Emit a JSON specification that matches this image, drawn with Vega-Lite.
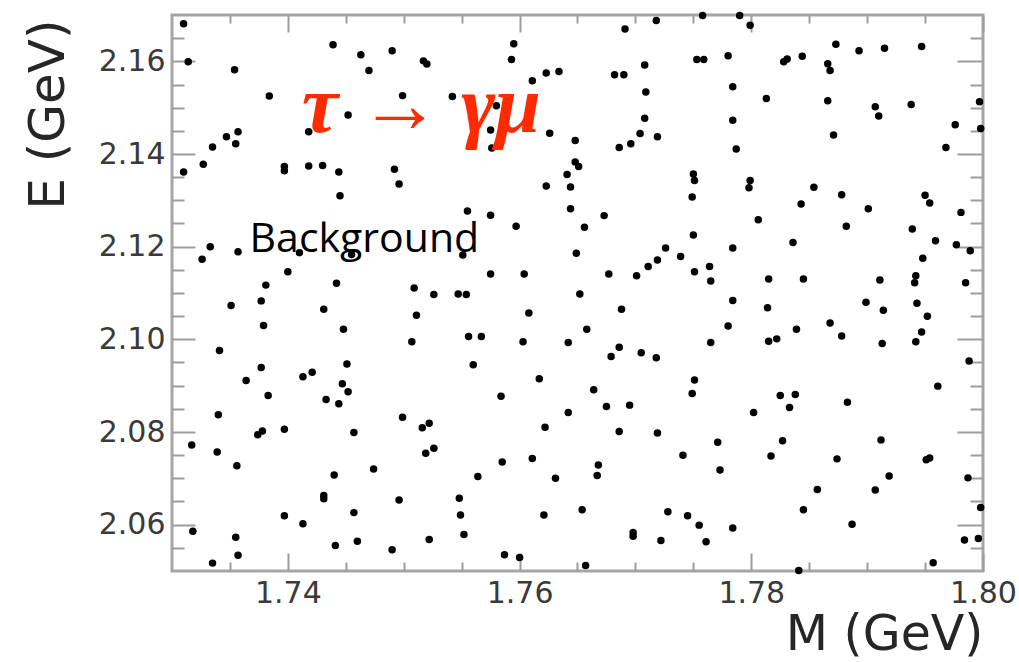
{
"$schema":"https://vega.github.io/schema/vega-lite/v6.json",
"width":811,"height":556,"autosize":"none",
"padding":{"left":172,"top":15,"right":36,"bottom":91},
"background":"white",
"config":{"view":{"stroke":"#a6a6a6","strokeWidth":3},
"axis":{"grid":false,"domain":false,"labelFont":"DejaVu Sans","labelFontSize":30,"labelColor":"#3a3a3a","tickColor":"#9c9c9c","tickWidth":2,"titleFont":"DejaVu Sans","titleFontWeight":"normal","titleColor":"#262626"}},
"datasets":{
"pts":[
{"M":1.7310,"E":2.1681},{"M":1.7314,"E":2.1599},{"M":1.7354,"E":2.1582},{"M":1.7384,"E":2.1525},{"M":1.7439,"E":2.1636},{"M":1.7463,"E":2.1614},{"M":1.7470,"E":2.1580},{"M":1.7452,"E":2.1484},{"M":1.7418,"E":2.1448},{"M":1.7357,"E":2.1448},{"M":1.7347,"E":2.1437},{"M":1.7355,"E":2.1422},{"M":1.7335,"E":2.1415},{"M":1.7327,"E":2.1378},{"M":1.7310,"E":2.1361},{"M":1.7397,"E":2.1373},{"M":1.7397,"E":2.1364},{"M":1.7418,"E":2.1374},{"M":1.7430,"E":2.1375},{"M":1.7444,"E":2.1361},{"M":1.7445,"E":2.1310},
{"M":1.7490,"E":2.1623},{"M":1.7517,"E":2.1601},{"M":1.7520,"E":2.1594},{"M":1.7595,"E":2.1638},{"M":1.7593,"E":2.1604},{"M":1.7611,"E":2.1558},{"M":1.7623,"E":2.1575},{"M":1.7634,"E":2.1578},{"M":1.7499,"E":2.1526},{"M":1.7542,"E":2.1524},{"M":1.7580,"E":2.1504},{"M":1.7626,"E":2.1445},{"M":1.7575,"E":2.1452},{"M":1.7576,"E":2.1413},{"M":1.7648,"E":2.1429},{"M":1.7648,"E":2.1383},{"M":1.7651,"E":2.1373},{"M":1.7641,"E":2.1356},{"M":1.7623,"E":2.1331},{"M":1.7644,"E":2.1329},{"M":1.7492,"E":2.1367},{"M":1.7496,"E":2.1335},
{"M":1.7691,"E":2.1670},{"M":1.7718,"E":2.1688},{"M":1.7758,"E":2.1699},{"M":1.7790,"E":2.1699},{"M":1.7799,"E":2.1678},{"M":1.7753,"E":2.1604},{"M":1.7759,"E":2.1604},{"M":1.7780,"E":2.1612},{"M":1.7682,"E":2.1571},{"M":1.7690,"E":2.1571},{"M":1.7708,"E":2.1592},{"M":1.7709,"E":2.1534},{"M":1.7784,"E":2.1545},{"M":1.7813,"E":2.1520},{"M":1.7708,"E":2.1477},{"M":1.7704,"E":2.1444},{"M":1.7696,"E":2.1422},{"M":1.7686,"E":2.1414},{"M":1.7719,"E":2.1437},{"M":1.7784,"E":2.1473},{"M":1.7787,"E":2.1411},{"M":1.7750,"E":2.1357},{"M":1.7751,"E":2.1343},{"M":1.7749,"E":2.1307},{"M":1.7799,"E":2.1343},{"M":1.7798,"E":2.1327},
{"M":1.7873,"E":2.1637},{"M":1.7893,"E":2.1623},{"M":1.7915,"E":2.1628},{"M":1.7947,"E":2.1632},{"M":1.7828,"E":2.1599},{"M":1.7831,"E":2.1605},{"M":1.7844,"E":2.1611},{"M":1.7866,"E":2.1595},{"M":1.7868,"E":2.1580},{"M":1.7866,"E":2.1515},{"M":1.7907,"E":2.1502},{"M":1.7910,"E":2.1482},{"M":1.7938,"E":2.1507},{"M":1.7997,"E":2.1513},{"M":1.7976,"E":2.1463},{"M":1.7998,"E":2.1455},{"M":1.7968,"E":2.1414},{"M":1.7871,"E":2.1441},{"M":1.7854,"E":2.1328},{"M":1.7878,"E":2.1312},{"M":1.7950,"E":2.1311},
{"M":1.7843,"E":2.1292},{"M":1.7901,"E":2.1282},{"M":1.7954,"E":2.1294},{"M":1.7981,"E":2.1274},{"M":1.7806,"E":2.1258},{"M":1.7882,"E":2.1244},{"M":1.7939,"E":2.1238},{"M":1.7784,"E":2.1197},{"M":1.7836,"E":2.1209},{"M":1.7959,"E":2.1213},{"M":1.7977,"E":2.1204},{"M":1.7989,"E":2.1191},{"M":1.7948,"E":2.1175},{"M":1.7815,"E":2.1130},{"M":1.7845,"E":2.1130},{"M":1.7911,"E":2.1128},{"M":1.7942,"E":2.1137},{"M":1.7941,"E":2.1122},{"M":1.7985,"E":2.1122},{"M":1.7784,"E":2.1084},{"M":1.7814,"E":2.1068},{"M":1.7899,"E":2.1080},{"M":1.7914,"E":2.1063},{"M":1.7943,"E":2.1078},{"M":1.7952,"E":2.1050},{"M":1.7780,"E":2.1029},{"M":1.7839,"E":2.1022},{"M":1.7868,"E":2.1035},{"M":1.7878,"E":2.1007},{"M":1.7815,"E":2.0996},{"M":1.7822,"E":2.1001},{"M":1.7913,"E":2.0991},{"M":1.7947,"E":2.1016},{"M":1.7942,"E":2.0995},{"M":1.7988,"E":2.0953},{"M":1.7961,"E":2.0899},
{"M":1.7555,"E":2.1277},{"M":1.7575,"E":2.1268},{"M":1.7597,"E":2.1244},{"M":1.7644,"E":2.1282},{"M":1.7673,"E":2.1267},{"M":1.7656,"E":2.1242},{"M":1.7750,"E":2.1225},{"M":1.7551,"E":2.1182},{"M":1.7649,"E":2.1186},{"M":1.7726,"E":2.1197},{"M":1.7739,"E":2.1179},{"M":1.7719,"E":2.1171},{"M":1.7711,"E":2.1157},{"M":1.7701,"E":2.1137},{"M":1.7751,"E":2.1146},{"M":1.7764,"E":2.1157},{"M":1.7765,"E":2.1126},{"M":1.7575,"E":2.1141},{"M":1.7604,"E":2.1141},{"M":1.7677,"E":2.1141},{"M":1.7547,"E":2.1098},{"M":1.7554,"E":2.1097},{"M":1.7652,"E":2.1098},{"M":1.7608,"E":2.1057},{"M":1.7688,"E":2.1065},{"M":1.7556,"E":2.1006},{"M":1.7567,"E":2.1006},{"M":1.7603,"E":2.0995},{"M":1.7642,"E":2.0993},{"M":1.7658,"E":2.1022},{"M":1.7686,"E":2.0983},{"M":1.7679,"E":2.0963},{"M":1.7705,"E":2.0971},{"M":1.7718,"E":2.0960},{"M":1.7765,"E":2.0993},{"M":1.7560,"E":2.0945},{"M":1.7617,"E":2.0915},{"M":1.7751,"E":2.0912},
{"M":1.7333,"E":2.1200},{"M":1.7326,"E":2.1173},{"M":1.7357,"E":2.1189},{"M":1.7410,"E":2.1187},{"M":1.7455,"E":2.1183},{"M":1.7400,"E":2.1146},{"M":1.7381,"E":2.1117},{"M":1.7442,"E":2.1121},{"M":1.7509,"E":2.1111},{"M":1.7526,"E":2.1097},{"M":1.7377,"E":2.1083},{"M":1.7351,"E":2.1073},{"M":1.7431,"E":2.1065},{"M":1.7511,"E":2.1052},{"M":1.7379,"E":2.1030},{"M":1.7448,"E":2.1022},{"M":1.7507,"E":2.0995},{"M":1.7341,"E":2.0976},{"M":1.7377,"E":2.0939},{"M":1.7451,"E":2.0947},{"M":1.7413,"E":2.0919},{"M":1.7421,"E":2.0929},{"M":1.7364,"E":2.0911},{"M":1.7447,"E":2.0904},
{"M":1.7452,"E":2.0887},{"M":1.7383,"E":2.0879},{"M":1.7433,"E":2.0870},{"M":1.7444,"E":2.0861},{"M":1.7340,"E":2.0837},{"M":1.7499,"E":2.0832},{"M":1.7516,"E":2.0809},{"M":1.7522,"E":2.0819},{"M":1.7374,"E":2.0794},{"M":1.7378,"E":2.0802},{"M":1.7397,"E":2.0806},{"M":1.7457,"E":2.0799},{"M":1.7317,"E":2.0772},{"M":1.7339,"E":2.0757},{"M":1.7519,"E":2.0754},{"M":1.7526,"E":2.0765},{"M":1.7356,"E":2.0727},{"M":1.7474,"E":2.0720},{"M":1.7440,"E":2.0707},{"M":1.7431,"E":2.0663},{"M":1.7431,"E":2.0656},{"M":1.7496,"E":2.0653},{"M":1.7397,"E":2.0619},{"M":1.7413,"E":2.0602},{"M":1.7457,"E":2.0626},{"M":1.7318,"E":2.0586},{"M":1.7355,"E":2.0573},{"M":1.7357,"E":2.0534},{"M":1.7335,"E":2.0517},{"M":1.7441,"E":2.0555},{"M":1.7460,"E":2.0564},{"M":1.7490,"E":2.0546},{"M":1.7522,"E":2.0568},
{"M":1.7584,"E":2.0877},{"M":1.7664,"E":2.0891},{"M":1.7675,"E":2.0855},{"M":1.7695,"E":2.0858},{"M":1.7642,"E":2.0842},{"M":1.7749,"E":2.0883},{"M":1.7622,"E":2.0810},{"M":1.7686,"E":2.0801},{"M":1.7719,"E":2.0798},{"M":1.7771,"E":2.0778},{"M":1.7741,"E":2.0750},{"M":1.7773,"E":2.0718},{"M":1.7585,"E":2.0735},{"M":1.7611,"E":2.0743},{"M":1.7564,"E":2.0704},{"M":1.7631,"E":2.0700},{"M":1.7668,"E":2.0729},{"M":1.7667,"E":2.0706},{"M":1.7548,"E":2.0657},{"M":1.7549,"E":2.0621},{"M":1.7552,"E":2.0579},{"M":1.7621,"E":2.0621},{"M":1.7654,"E":2.0632},{"M":1.7728,"E":2.0628},{"M":1.7745,"E":2.0619},{"M":1.7755,"E":2.0599},{"M":1.7698,"E":2.0583},{"M":1.7698,"E":2.0575},{"M":1.7722,"E":2.0566},{"M":1.7761,"E":2.0563},{"M":1.7587,"E":2.0535},{"M":1.7600,"E":2.0529},{"M":1.7657,"E":2.0512},
{"M":1.7825,"E":2.0879},{"M":1.7838,"E":2.0881},{"M":1.7833,"E":2.0853},{"M":1.7802,"E":2.0842},{"M":1.7883,"E":2.0864},{"M":1.7827,"E":2.0781},{"M":1.7817,"E":2.0748},{"M":1.7912,"E":2.0783},{"M":1.7874,"E":2.0742},{"M":1.7951,"E":2.0740},{"M":1.7954,"E":2.0744},{"M":1.7919,"E":2.0705},{"M":1.7857,"E":2.0676},{"M":1.7907,"E":2.0675},{"M":1.7987,"E":2.0701},{"M":1.7845,"E":2.0632},{"M":1.7998,"E":2.0637},{"M":1.7784,"E":2.0593},{"M":1.7887,"E":2.0601},{"M":1.7984,"E":2.0567},{"M":1.7996,"E":2.0570},{"M":1.7957,"E":2.0518},{"M":1.7841,"E":2.0501}
],
"tau":[{"M":1.7412,"E":2.1447,"label":"τ → γμ"}],
"bg":[{"M":1.7367,"E":2.1188,"label":"Background"}]
},
"data":{"name":"pts"},
"layer":[
{"mark":{"type":"point","filled":true,"color":"#000000","size":56,"opacity":1},
 "encoding":{
  "x":{"field":"M","type":"quantitative","scale":{"domain":[1.73,1.80],"nice":false,"zero":false},
   "axis":{"orient":"bottom","values":[1.74,1.76,1.78,1.80],"format":".2f","ticks":false,"labelPadding":7,"labelFlush":false,
    "title":"M (GeV)","titleFontSize":49,"titleAnchor":"end","titleAlign":"right","titleBaseline":"alphabetic","titleX":811,"titleY":78}},
  "y":{"field":"E","type":"quantitative","scale":{"domain":[2.05,2.17],"nice":false,"zero":false},
   "axis":{"orient":"left","values":[2.06,2.08,2.10,2.12,2.14,2.16],"format":".2f","ticks":false,"labelPadding":7,"labelFlush":false,
    "title":"E (GeV)","titleFontSize":50,"titleAngle":-90,"titleAnchor":"end","titleAlign":"right","titleBaseline":"alphabetic","titleX":-109,"titleY":4}}}},
{"mark":{"type":"point","opacity":0},
 "encoding":{
  "x":{"field":"M","type":"quantitative","axis":{"orient":"bottom","values":[1.74,1.76,1.78,1.80],"labels":false,"title":null,"tickSize":-18}},
  "y":{"field":"E","type":"quantitative","axis":{"orient":"left","values":[2.06,2.08,2.10,2.12,2.14,2.16],"labels":false,"title":null,"tickSize":-23}}}},
{"mark":{"type":"point","opacity":0},
 "encoding":{
  "x":{"field":"M","type":"quantitative","axis":{"orient":"bottom","values":[1.735,1.745,1.75,1.755,1.765,1.77,1.775,1.785,1.79,1.795],"labels":false,"title":null,"tickSize":-9}},
  "y":{"field":"E","type":"quantitative","axis":{"orient":"left","values":[2.055,2.065,2.07,2.075,2.085,2.09,2.095,2.105,2.11,2.115,2.125,2.13,2.135,2.145,2.15,2.155,2.165],"labels":false,"title":null,"tickSize":-12}}}},
{"mark":{"type":"point","opacity":0},
 "encoding":{
  "x":{"field":"M","type":"quantitative","axis":{"orient":"top","values":[1.74,1.76,1.78,1.80],"labels":false,"title":null,"tickSize":-17}},
  "y":{"field":"E","type":"quantitative","axis":{"orient":"right","values":[2.06,2.08,2.10,2.12,2.14,2.16],"labels":false,"title":null,"tickSize":-26}}}},
{"mark":{"type":"point","opacity":0},
 "encoding":{
  "x":{"field":"M","type":"quantitative","axis":{"orient":"top","values":[1.735,1.745,1.75,1.755,1.765,1.77,1.775,1.785,1.79,1.795],"labels":false,"title":null,"tickSize":-8}},
  "y":{"field":"E","type":"quantitative","axis":{"orient":"right","values":[2.055,2.065,2.07,2.075,2.085,2.09,2.095,2.105,2.11,2.115,2.125,2.13,2.135,2.145,2.15,2.155,2.165],"labels":false,"title":null,"tickSize":-13}}}},
{"data":{"name":"tau"},
 "mark":{"type":"text","font":"Liberation Serif","fontStyle":"italic","fontWeight":"bold","fontSize":82,"color":"#ff2a00","align":"left","baseline":"alphabetic"},
 "encoding":{"x":{"field":"M","type":"quantitative","axis":null},"y":{"field":"E","type":"quantitative","axis":null},"text":{"field":"label"}}},
{"data":{"name":"bg"},
 "mark":{"type":"text","font":"Open Sans","fontSize":41,"color":"#000000","align":"left","baseline":"alphabetic"},
 "encoding":{"x":{"field":"M","type":"quantitative","axis":null},"y":{"field":"E","type":"quantitative","axis":null},"text":{"field":"label"}}}
],
"resolve":{"axis":{"x":"independent","y":"independent"}}
}
